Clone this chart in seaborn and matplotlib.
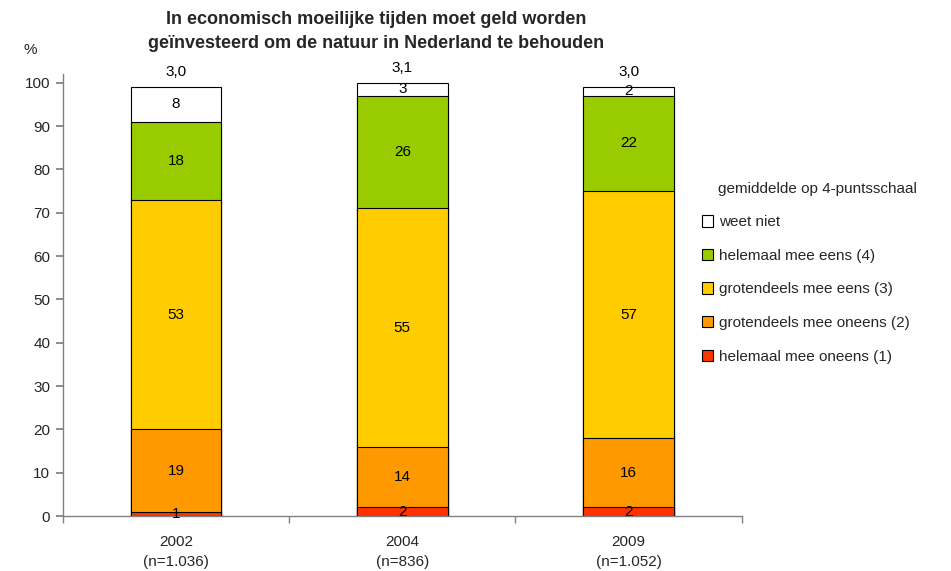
import matplotlib
matplotlib.use("Agg")
import matplotlib.pyplot as plt
import seaborn as sns
import pandas as pd
import numpy as np
from matplotlib.patches import Patch

years = ["2002", "2004", "2009"]
n_labels = ["(n=1.036)", "(n=836)", "(n=1.052)"]
means = ["3,0", "3,1", "3,0"]
helemaal_oneens = [1, 2, 2]
grotendeels_oneens = [19, 14, 16]
grotendeels_eens = [53, 55, 57]
helemaal_eens = [18, 26, 22]
weet_niet = [8, 3, 2]

series_names = ["helemaal mee oneens (1)", "grotendeels mee oneens (2)",
                "grotendeels mee eens (3)", "helemaal mee eens (4)", "weet niet"]
series_vals = [helemaal_oneens, grotendeels_oneens, grotendeels_eens, helemaal_eens, weet_niet]
colors = ["#FF3300", "#FF9900", "#FFCC00", "#99CC00", "#FFFFFF"]

sns.set_theme(style="white")
plt.rcParams["font.family"] = ["Liberation Sans", "DejaVu Sans"]
FS = 11

fig = plt.figure(figsize=(9.51, 5.71), dpi=100)
ax = fig.add_axes([0.066, 0.0963, 0.714, 0.774])

vals = np.array(series_vals, dtype=float)
cum = np.cumsum(vals, axis=0)
xlabels = [f"{y}\n{n}" for y, n in zip(years, n_labels)]

for i in range(len(series_names) - 1, -1, -1):
    df = pd.DataFrame({"year": xlabels, "value": cum[i]})
    sns.barplot(data=df, x="year", y="value", color=colors[i], width=0.4,
                edgecolor="black", linewidth=0.8, saturation=1, ax=ax, errorbar=None)

for j in range(len(years)):
    for i in range(len(series_names)):
        mid = cum[i, j] - vals[i, j] / 2
        ax.text(j, mid, f"{int(vals[i, j])}", ha="center", va="center", fontsize=FS, color="black")
    ax.text(j, cum[-1, j] + 3.4, means[j], ha="center", va="center", fontsize=FS, color="black", clip_on=False)

ax.set_xlim(-0.5, 2.5)
ax.set_ylim(0, 102)
ax.set_yticks(range(0, 101, 10))
ax.set_xlabel("")
ax.set_ylabel("")
for s in ["top", "right"]:
    ax.spines[s].set_visible(False)
for s in ["left", "bottom"]:
    ax.spines[s].set_color("#808080")
    ax.spines[s].set_linewidth(1.0)
ax.tick_params(axis="y", which="major", left=True, length=5, direction="out", color="#808080",
               labelsize=FS, pad=4)
ax.tick_params(axis="x", which="major", bottom=False, labelsize=FS, pad=8)
ax.set_xticks([-0.5, 0.5, 1.5, 2.5], minor=True)
ax.tick_params(axis="x", which="minor", bottom=True, length=5, direction="out", color="#808080")
for lab in ax.get_xticklabels():
    lab.set_linespacing(1.5)

fig.text(376 / 951, 1 - 19 / 571, "In economisch moeilijke tijden moet geld worden",
         ha="center", va="center", fontsize=13, fontweight="bold")
fig.text(376 / 951, 1 - 43 / 571, "geïnvesteerd om de natuur in Nederland te behouden",
         ha="center", va="center", fontsize=13, fontweight="bold")
fig.text(30 / 951, 1 - 50 / 571, "%", ha="center", va="center", fontsize=FS)

handles = [Patch(facecolor=colors[i], edgecolor="black", linewidth=0.8) for i in range(4, -1, -1)]
labels = [series_names[i] for i in range(4, -1, -1)]
leg = fig.legend(handles, labels, title="gemiddelde op 4-puntsschaal", loc="upper left",
                 bbox_to_anchor=(688 / 951, 1 - 168 / 571), frameon=False, fontsize=FS,
                 title_fontsize=FS, handlelength=0.75, handleheight=0.75, handletextpad=0.4,
                 labelspacing=1.28, alignment="left")
leg.get_title().set_position((16, 0))

fig.savefig("out.png", dpi=100)
